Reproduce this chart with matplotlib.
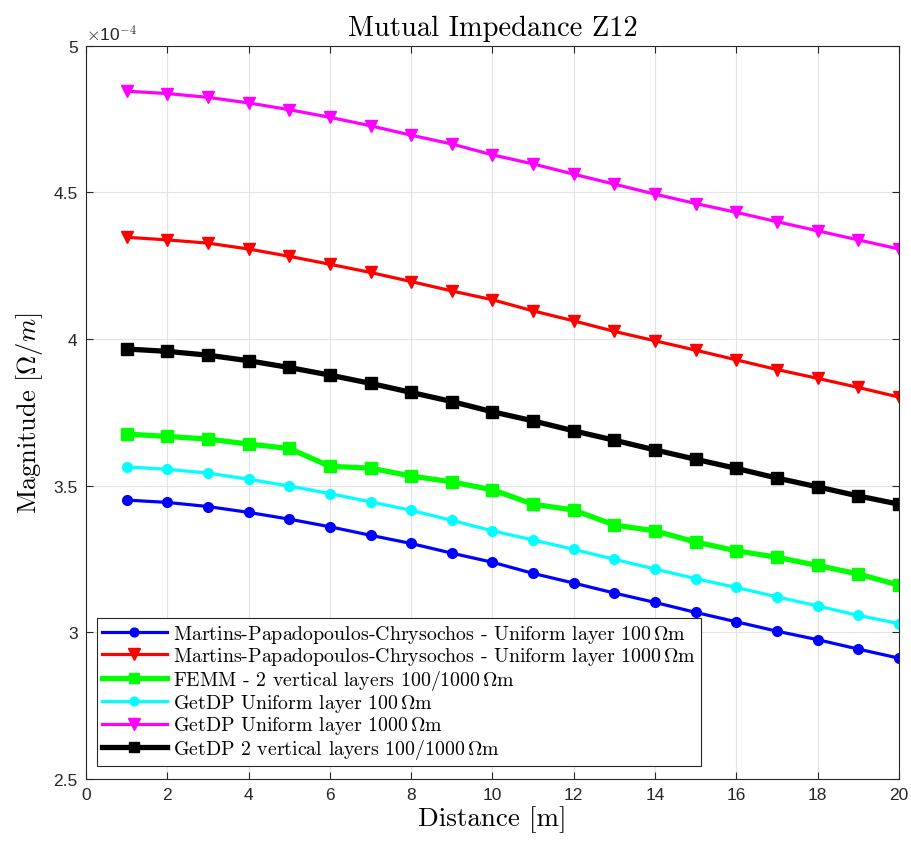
import numpy as np
import matplotlib
matplotlib.use("Agg")
import matplotlib.pyplot as plt
from matplotlib.ticker import FuncFormatter

# distance [m]
distance = np.arange(1, 21)

# mutual impedance magnitude, in units of 1e-4 Ohm/m
mpc_100 = [3.451, 3.443, 3.429, 3.409, 3.386, 3.360, 3.331, 3.303, 3.270, 3.239,
           3.201, 3.168, 3.134, 3.102, 3.068, 3.036, 3.004, 2.975, 2.943, 2.912]
mpc_1000 = [4.347, 4.338, 4.327, 4.307, 4.282, 4.255, 4.227, 4.196, 4.164, 4.134,
            4.096, 4.062, 4.026, 3.994, 3.962, 3.929, 3.896, 3.866, 3.835, 3.802]
femm_2layers = [3.676, 3.668, 3.659, 3.642, 3.627, 3.566, 3.560, 3.533, 3.513, 3.486,
                3.437, 3.417, 3.366, 3.346, 3.308, 3.278, 3.256, 3.228, 3.199, 3.161]
getdp_100 = [3.564, 3.556, 3.543, 3.522, 3.499, 3.473, 3.445, 3.416, 3.382, 3.346,
             3.315, 3.283, 3.249, 3.216, 3.183, 3.153, 3.121, 3.090, 3.058, 3.030]
getdp_1000 = [4.845, 4.837, 4.824, 4.805, 4.782, 4.756, 4.727, 4.695, 4.665, 4.628,
              4.597, 4.562, 4.528, 4.494, 4.462, 4.432, 4.400, 4.369, 4.338, 4.307]
getdp_2layers = [3.966, 3.958, 3.945, 3.926, 3.903, 3.877, 3.849, 3.818, 3.787, 3.752,
                 3.721, 3.687, 3.655, 3.622, 3.590, 3.559, 3.526, 3.496, 3.465, 3.437]

labels = [
    r"Martins-Papadopoulos-Chrysochos - Uniform layer 100$\,\Omega$m",
    r"Martins-Papadopoulos-Chrysochos - Uniform layer 1000$\,\Omega$m",
    r"FEMM - 2 vertical layers 100/1000$\,\Omega$m",
    r"GetDP Uniform layer 100$\,\Omega$m",
    r"GetDP Uniform layer 1000$\,\Omega$m",
    r"GetDP 2 vertical layers 100/1000$\,\Omega$m",
]

plt.rcParams["mathtext.fontset"] = "cm"
plt.rcParams["axes.unicode_minus"] = False
serif = "cmr10"
sans = ["Liberation Sans", "DejaVu Sans"]

fig = plt.figure(figsize=(9.12, 8.45), dpi=100)
ax = fig.add_axes([0.0943, 0.0769, 0.8914, 0.8678])

ax.plot(distance, mpc_100, color="#0000ff", lw=2.3, marker="o", ms=7, label=labels[0])
ax.plot(distance, mpc_1000, color="#ff0000", lw=2.3, marker="v", ms=9, label=labels[1])
ax.plot(distance, femm_2layers, color="#00ff00", lw=3.8, marker="s", ms=8, label=labels[2])
ax.plot(distance, getdp_100, color="#00ffff", lw=2.3, marker="o", ms=7, label=labels[3])
ax.plot(distance, getdp_1000, color="#ff00ff", lw=2.3, marker="v", ms=9, label=labels[4])
ax.plot(distance, getdp_2layers, color="#000000", lw=3.8, marker="s", ms=8, label=labels[5])

ax.set_xlim(0, 20)
ax.set_ylim(2.5, 5)
ax.set_xticks(np.arange(0, 21, 2))
ax.set_yticks(np.arange(2.5, 5.01, 0.5))
ax.yaxis.set_major_formatter(FuncFormatter(lambda v, p: "%g" % v))
ax.grid(True, color="#e3e3e3", lw=0.8)
ax.set_axisbelow(True)
ax.tick_params(direction="in", top=True, right=True, length=5, width=0.8,
               color="#262626", labelsize=12.5, labelcolor="#262626", pad=6)
for lbl in ax.get_xticklabels() + ax.get_yticklabels():
    lbl.set_family(sans)
for sp in ax.spines.values():
    sp.set_color("#262626")
    sp.set_linewidth(0.8)

ax.text(0.0, 1.003, r"$\times$10$^{-4}$", transform=ax.transAxes, fontsize=12.5,
        family=sans, color="#262626", ha="left", va="bottom")

ax.set_title("Mutual Impedance Z12", family=serif, fontsize=20.5, pad=8)
ax.set_xlabel("Distance [m]", family=serif, fontsize=19.5, labelpad=2)
ax.set_ylabel(r"Magnitude [$\Omega/m$]", family=serif, fontsize=19, labelpad=6)

leg = ax.legend(loc="lower left", bbox_to_anchor=(0.013, 0.018), prop={"family": serif, "size": 14.3},
                handlelength=3.3, handletextpad=0.3, borderpad=0.25, labelspacing=0.02,
                markerscale=0.9, fancybox=False, framealpha=1, edgecolor="#262626", borderaxespad=0)
leg.get_frame().set_linewidth(0.8)

fig.savefig("out.png", dpi=100)
